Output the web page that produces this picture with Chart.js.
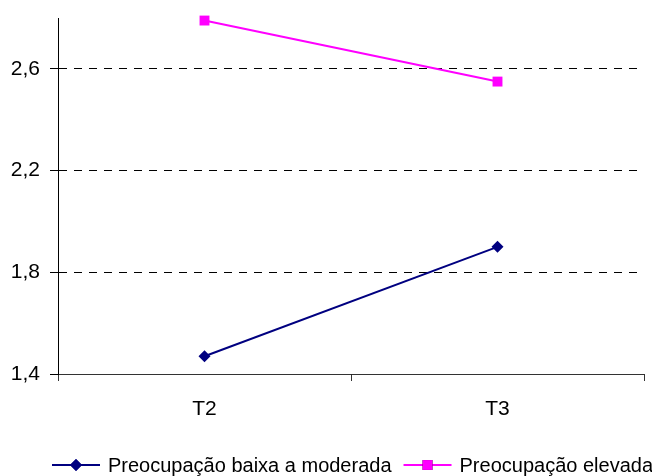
<!DOCTYPE html>
<html>
<head>
<meta charset="utf-8">
<script src="https://cdn.jsdelivr.net/npm/chart.js@4/dist/chart.umd.min.js"></script>
<style>
  html, body { margin: 0; padding: 0; background: #fff; }
  #wrap { width: 652px; height: 476px; }
</style>
</head>
<body>
<div id="wrap"><canvas id="c" width="652" height="476"></canvas></div>
<script>
// Time points and mean scores per worry group
const categories = ['T2', 'T3'];
const lowModerate = [1.47, 1.90];
const high = [2.79, 2.55];
const yTickValues = [1.4, 1.8, 2.2, 2.6];
const seriesLabels = ['Preocupação baixa a moderada', 'Preocupação elevada'];

const FONT = '"Liberation Sans", Arial, Helvetica, sans-serif';
Chart.defaults.font.family = FONT;
Chart.defaults.color = '#000';

const fmt = v => Number(v).toFixed(1).replace('.', ',');

// Legend drawn under the axis: line sample with marker, then the label
const lineLegend = {
  id: 'lineLegend',
  afterDraw(chart) {
    const ctx = chart.ctx;
    const y = 465;
    let x = 52;
    ctx.save();
    ctx.font = '20px ' + FONT;
    ctx.textBaseline = 'middle';
    chart.data.datasets.forEach((ds) => {
      const len = 48;
      ctx.strokeStyle = ds.borderColor;
      ctx.lineWidth = 2;
      ctx.beginPath();
      ctx.moveTo(x, y);
      ctx.lineTo(x + len, y);
      ctx.stroke();
      Chart.helpers.drawPoint(ctx, {
        pointStyle: ds.pointStyle,
        radius: ds.pointRadius,
        borderWidth: 0
      }, x + len / 2, y);
      ctx.fillStyle = ds.pointBackgroundColor;
      ctx.fill();
      x += len + 8;
      ctx.fillStyle = '#000';
      ctx.fillText(ds.label, x, y + 1);
      x += ctx.measureText(ds.label).width + 12;
    });
    ctx.restore();
  }
};

new Chart(document.getElementById('c'), {
  type: 'line',
  data: {
    labels: categories,
    datasets: [
      {
        label: seriesLabels[0],
        data: lowModerate,
        borderColor: '#000080',
        backgroundColor: '#000080',
        pointBackgroundColor: '#000080',
        pointBorderColor: '#000080',
        pointBorderWidth: 0,
        borderWidth: 2,
        pointStyle: 'rectRot',
        pointRadius: 6,
        tension: 0,
        clip: false
      },
      {
        label: seriesLabels[1],
        data: high,
        borderColor: '#FF00FF',
        backgroundColor: '#FF00FF',
        pointBackgroundColor: '#FF00FF',
        pointBorderColor: '#FF00FF',
        pointBorderWidth: 0,
        borderWidth: 2,
        pointStyle: 'rect',
        pointRadius: 7,
        tension: 0,
        clip: false
      }
    ]
  },
  options: {
    responsive: false,
    animation: false,
    devicePixelRatio: 1,
    layout: { padding: { top: 18, right: 8, left: 0, bottom: 42 } },
    plugins: {
      legend: { display: false },
      tooltip: { enabled: false }
    },
    scales: {
      x: {
        type: 'category',
        offset: true,
        grid: {
          offset: true,
          drawOnChartArea: false,
          drawTicks: true,
          tickLength: 7,
          tickColor: '#333',
          tickWidth: 1
        },
        border: { display: true, color: '#333', width: 1 },
        ticks: {
          font: { size: 21 },
          color: '#000',
          padding: 16,
          maxRotation: 0
        },
        afterFit(scale) { scale.height = 60; }
      },
      y: {
        min: 1.4,
        max: 2.8,
        afterBuildTicks(scale) {
          scale.ticks = yTickValues.map(v => ({ value: v }));
        },
        grid: {
          color: '#000',
          lineWidth: 1,
          drawTicks: true,
          tickLength: 8,
          tickColor: '#000',
          tickBorderDash: []
        },
        border: { display: true, color: '#000', width: 1, dash: [8, 7] },
        ticks: {
          font: { size: 21 },
          color: '#000',
          padding: 10,
          callback: v => fmt(v)
        },
        afterFit(scale) {
          scale.width = 58;
          scale.paddingTop = 0;
          scale.paddingBottom = 0;
        }
      }
    }
  },
  plugins: [lineLegend]
});
</script>
</body>
</html>
